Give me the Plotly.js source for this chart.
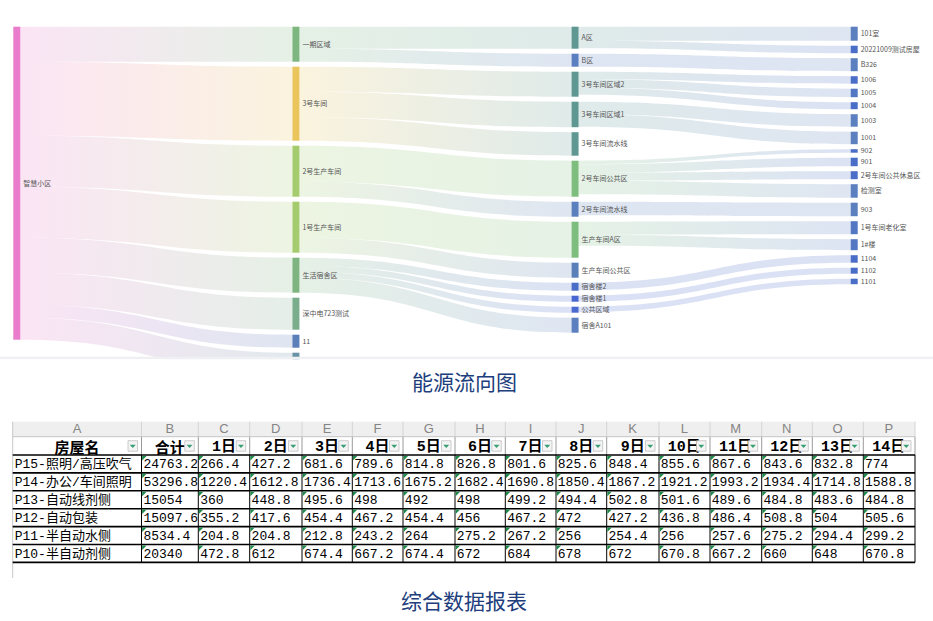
<!DOCTYPE html>
<html><head><meta charset="utf-8">
<script src="https://cdn.plot.ly/plotly-3.0.1.min.js"></script>
<style>html,body{margin:0;padding:0;background:#fff;}#chart{width:933px;height:621px;}</style>
</head><body><div id="chart"></div>
<script>
// ================= DATA =================
// Sankey nodes (in column order, top to bottom)
const nodeLabels = ['智慧小区',
  '一期区域','3号车间','2号生产车间','1号生产车间','生活宿舍区','深中电723测试','11','',
  'A区','B区','3号车间区域2','3号车间区域1','3号车间流水线','2号车间公共区','2号车间流水线','生产车间A区','生产车间公共区','宿舍楼2','宿舍楼1','公共区域','宿舍A101',
  '101室','20221009测试房屋','B326','1006','1005','1004','1003','1001','902','901','2号车间公共休息区','检测室','903','1号车间老化室','1#楼','1104','1102','1101'];
const linkSource = ['智慧小区','智慧小区','智慧小区','智慧小区','智慧小区','智慧小区','智慧小区','智慧小区',
  '一期区域','一期区域','3号车间','3号车间','3号车间','2号生产车间','2号生产车间','1号生产车间','1号生产车间',
  '生活宿舍区','生活宿舍区','生活宿舍区','生活宿舍区',
  'A区','A区','B区','3号车间区域2','3号车间区域2','3号车间区域2','3号车间区域1','3号车间区域1',
  '2号车间公共区','2号车间公共区','2号车间公共区','2号车间公共区','2号车间流水线','生产车间A区','生产车间A区',
  '宿舍楼2','宿舍楼1','公共区域'];
const linkTarget = ['一期区域','3号车间','2号生产车间','1号生产车间','生活宿舍区','深中电723测试','11','',
  'A区','B区','3号车间区域2','3号车间区域1','3号车间流水线','2号车间公共区','2号车间流水线','生产车间A区','生产车间公共区',
  '宿舍楼2','宿舍楼1','公共区域','宿舍A101',
  '101室','20221009测试房屋','B326','1006','1005','1004','1003','1001',
  '902','901','2号车间公共休息区','检测室','903','1号车间老化室','1#楼',
  '1104','1102','1101'];
const linkValue = [35,74,51,51,35,32,13,22,
  22,13,25,25.5,23.5,36,15,36,15,
  8,6,6,15,
  14,7.5,13,7.5,8.5,7,12.5,12.5,
  3.5,8.5,8,13.5,13.5,13,11,
  7.5,6,5.5];

// Table
const colLetters = ['A','B','C','D','E','F','G','H','I','J','K','L','M','N','O','P'];
const tableHeaders = ['房屋名','合计','1日','2日','3日','4日','5日','6日','7日','8日','9日','10日','11日','12日','13日','14日'];
const roomNames = ['P15-照明/高压吹气','P14-办公/车间照明','P13-自动线剂侧','P12-自动包装','P11-半自动水侧','P10-半自动剂侧'];
const roomTotals = [24763.2, 53296.8, 15054, 15097.6, 8534.4, 20340];
const dailyP15 = [266.4,427.2,681.6,789.6,814.8,826.8,801.6,825.6,848.4,855.6,867.6,843.6,832.8,774];
const dailyP14 = [1220.4,1612.8,1736.4,1713.6,1675.2,1682.4,1690.8,1850.4,1867.2,1921.2,1993.2,1934.4,1714.8,1588.8];
const dailyP13 = [360,448.8,495.6,498,492,498,499.2,494.4,502.8,501.6,489.6,484.8,483.6,484.8];
const dailyP12 = [355.2,417.6,454.4,467.2,454.4,456,467.2,472,427.2,436.8,486.4,508.8,504,505.6];
const dailyP11 = [204.8,204.8,212.8,243.2,264,275.2,267.2,256,254.4,256,257.6,275.2,294.4,299.2];
const dailyP10 = [472.8,612,674.4,667.2,674.4,672,684,678,672,670.8,667.2,660,648,670.8];
const dailyRows = [dailyP15, dailyP14, dailyP13, dailyP12, dailyP11, dailyP10];

// ================= STYLE / LAYOUT =================
const nodeColors = ['#ea7ccc',
  '#7db77f','#e9c55b','#a4cb6e','#a4cb6e','#7db47f','#7aad8b','#5b7fb9','#6a93a5',
  '#5f9893','#5a7ec0','#5f9893','#5f9893','#5f9893','#7dbe7e','#5a80bd','#7dbe7e','#5b7fb9','#4a6dc6','#4866d0','#4a6ad0','#5b7fbf',
  '#5b7fbf','#4a6dc8','#5b7fbf','#4a6dc8','#5477c4','#4a6dc8','#5b7fbf','#5b7fbf','#4a6dc8','#4a6dc8','#4a6dc8','#5b7fbf','#5b7fbf','#5477c4','#5477c4','#4a6dc8','#4a6dc8','#4a6dc8'];
const FW = 933, FH = 621;
const PX = x => x / FW, PY = y => 1 - y / FH;
const SK = {left: 13.3, right: 857.7, top: 26.7, bottom: 374.7, thick: 7, pad: 5};
const LINK_ALPHA = 0.2;

// --- sankey node placement computed from the data (column = depth, stacked in data order)
const idx = {}; nodeLabels.forEach((l, i) => idx[l] = i);
const src = linkSource.map(l => idx[l]), tgt = linkTarget.map(l => idx[l]);
const depth = nodeLabels.map(() => 0);
for (let it = 0; it < 10; it++) src.forEach((s, k) => { depth[tgt[k]] = Math.max(depth[tgt[k]], depth[s] + 1); });
const inV = nodeLabels.map(() => 0), outV = nodeLabels.map(() => 0);
src.forEach((s, k) => { outV[s] += linkValue[k]; inV[tgt[k]] += linkValue[k]; });
const nodeVal = nodeLabels.map((_, i) => Math.max(inV[i], outV[i]));
const maxD = Math.max(...depth);
const Wd = SK.right - SK.left, Hd = SK.bottom - SK.top;
const cols = [];
for (let d = 0; d <= maxD; d++) cols.push(nodeLabels.map((_, i) => i).filter(i => depth[i] === d));
const ky = Math.min(...cols.map(c => (Hd - (c.length - 1) * SK.pad) / c.reduce((a, i) => a + nodeVal[i], 0)));
const nodeX = [], nodeY = [];
cols.forEach((c, d) => {
  let y = 0;
  c.forEach(i => {
    const h = nodeVal[i] * ky;
    nodeY[i] = (y + h / 2) / Hd;
    y += h + SK.pad;
    nodeX[i] = (d * (Wd - SK.thick) / maxD + SK.thick / 2) / Wd;
  });
});
function hexRgb(h) { return [parseInt(h.slice(1,3),16), parseInt(h.slice(3,5),16), parseInt(h.slice(5,7),16)]; }
const linkColors = src.map((s, k) => {
  const a = hexRgb(nodeColors[s]), b = hexRgb(nodeColors[tgt[k]]);
  return `rgba(${(a[0]+b[0])>>1},${(a[1]+b[1])>>1},${(a[2]+b[2])>>1},${LINK_ALPHA})`;
});

const sankey = {
  type: 'sankey', arrangement: 'fixed', orientation: 'h',
  domain: {x: [PX(SK.left), PX(SK.right)], y: [PY(SK.bottom), PY(SK.top)]},
  node: {label: nodeLabels, color: nodeColors, pad: SK.pad, thickness: SK.thick,
         line: {width: 0}, x: nodeX, y: nodeY, align: 'left', hoverinfo: 'none'},
  link: {source: src, target: tgt, value: linkValue, color: linkColors, hoverinfo: 'none'},
  textfont: {family: 'Noto Sans CJK SC', size: 7, color: '#555', shadow: 'none'},
  hoverinfo: 'none'
};

// --- table geometry
const colEdges = [12.7,141.5,198.3,249.7,302,352.3,403,455,505.3,556,606.7,659,710,761.7,812.3,863.3,915];
const colWidths = colEdges.slice(1).map((e, i) => e - colEdges[i]);
const LET_TOP = 421.7, LET_H = 15, HEAD_H = 18.3, ROW_H = 17.9;
const HEAD_TOP = LET_TOP + LET_H, DATA_TOP = HEAD_TOP + HEAD_H;
const TXT_OFF_C = -6, TXT_OFF_L = -20.5, TEXT_PAD = 2;
const clear = 'rgba(0,0,0,0)';
const monoCJK = 'Liberation Mono, Noto Sans CJK SC';

const tableHead = {
  type: 'table',
  domain: {x: [PX(colEdges[0]), PX(colEdges[16])], y: [PY(DATA_TOP + 3), PY(LET_TOP + TXT_OFF_C)]},
  columnwidth: colWidths,
  header: {values: colLetters, height: LET_H, align: 'center', fill: {color: clear}, line: {width: 0, color: clear},
           font: {family: 'Liberation Sans', size: 13, color: '#858585'}},
  cells: {values: tableHeaders.map(h => ['<b>' + h + '</b>']), height: HEAD_H, align: 'center',
          fill: {color: clear}, line: {width: 0, color: clear}, font: {family: monoCJK, size: 15, color: '#000'}}
};
const dataCols = [roomNames, roomTotals.map(String)];
for (let d = 0; d < 14; d++) dataCols.push(dailyRows.map(r => String(r[d])));
const tableBody = {
  type: 'table',
  domain: {x: [PX(colEdges[0]), PX(colEdges[16])], y: [PY(600), PY(DATA_TOP + TXT_OFF_L)]},
  columnwidth: colWidths,
  header: {values: [], height: 0, fill: {color: clear}, line: {width: 0, color: clear}},
  cells: {values: dataCols, height: ROW_H, align: 'left', fill: {color: clear}, line: {width: 0, color: clear},
          font: {family: monoCJK, size: 13, color: '#000'}}
};

// --- decorations (shapes)
const shapes = [];
function rect(x0, y0, x1, y1, fill, layer, line) {
  shapes.push({type: 'rect', xref: 'paper', yref: 'paper', x0: PX(x0), x1: PX(x1), y0: PY(y1), y1: PY(y0),
               fillcolor: fill, line: line || {width: 0}, layer: layer || 'above'});
}
function seg(x0, y0, x1, y1, color, w) {
  shapes.push({type: 'line', xref: 'paper', yref: 'paper', x0: PX(x0), x1: PX(x1), y0: PY(y0), y1: PY(y1),
               line: {color: color, width: w}, layer: 'above'});
}
function poly(pts, fill) {
  shapes.push({type: 'path', xref: 'paper', yref: 'paper', fillcolor: fill, line: {width: 0}, layer: 'above',
               path: 'M' + pts.map(p => PX(p[0]) + ',' + PY(p[1])).join('L') + 'Z'});
}
// sankey viewport edge
rect(0, 356.7, FW, 359.3, '#eff0f3');
rect(0, 359.3, FW, 386, '#ffffff');
// spreadsheet
rect(colEdges[0], LET_TOP, colEdges[16], HEAD_TOP, '#efefef', 'below');
const nRows = roomNames.length;
const DATA_BOT = DATA_TOP + nRows * ROW_H;
seg(colEdges[0], LET_TOP, colEdges[0], 578, '#c8c8c8', 1);
for (let c = 1; c <= 16; c++) {
  seg(colEdges[c], LET_TOP, colEdges[c], HEAD_TOP, '#d4d4d4', 1);
  seg(colEdges[c], HEAD_TOP, colEdges[c], DATA_TOP, '#9a9a9a', 1);
  seg(colEdges[c], DATA_TOP, colEdges[c], DATA_BOT, '#000', 1);
}
seg(colEdges[0], HEAD_TOP, colEdges[16], HEAD_TOP, '#c6c6c6', 1);
for (let r = 0; r <= nRows; r++) seg(colEdges[0], DATA_TOP + r * ROW_H, colEdges[16], DATA_TOP + r * ROW_H, '#000', 1.6);
// filter buttons
for (let c = 0; c < 16; c++) {
  const R = colEdges[c + 1];
  const bx0 = R - 13.5, bx1 = R - 4, by0 = HEAD_TOP + 4, by1 = HEAD_TOP + 14.5;
  rect(bx0, by0, bx1, by1, '#f4f4f4', 'above', {color: '#b8b8b8', width: 0.7});
  const cx = (bx0 + bx1) / 2, cy = (by0 + by1) / 2;
  poly([[cx - 3, cy - 1.3], [cx + 3, cy - 1.3], [cx, cy + 2]], '#3a9e74');
}
// green "number as text" markers
for (let r = 0; r < nRows; r++) for (let c = 1; c < 16; c++) {
  const x = colEdges[c] + 0.6, y = DATA_TOP + r * ROW_H + 0.9;
  poly([[x, y], [x + 4.5, y], [x, y + 4.5]], '#1f8a4c');
}

const annotations = [
  {text: '能源流向图', xref: 'paper', yref: 'paper', x: PX(464), y: PY(381), showarrow: false,
   xanchor: 'center', yanchor: 'middle', font: {family: 'Noto Sans CJK SC', size: 21, color: '#203d7c'}},
  {text: '综合数据报表', xref: 'paper', yref: 'paper', x: PX(464), y: PY(600), showarrow: false,
   xanchor: 'center', yanchor: 'middle', font: {family: 'Noto Sans CJK SC', size: 21, color: '#203d7c'}}
];

const layout = {width: FW, height: FH, margin: {l: 0, r: 0, t: 0, b: 0}, paper_bgcolor: '#fff',
  showlegend: false, shapes: shapes, annotations: annotations};

const gd = document.getElementById('chart');
function postProcess() {
  const NS = 'http://www.w3.org/2000/svg';
  const svg = gd.querySelector('.main-svg');
  if (!svg) return;
  let defs = svg.querySelector('defs');
  if (!defs) { defs = document.createElementNS(NS, 'defs'); svg.insertBefore(defs, svg.firstChild); }
  // gradient links (source colour -> target colour)
  gd.querySelectorAll('.sankey-link').forEach(p => {
    const d = p.__data__; if (!d || !d.link) return;
    let s, t;
    if (d.link.source && d.link.source.pointNumber !== undefined) { s = d.link.source.pointNumber; t = d.link.target.pointNumber; }
    else { s = src[d.link.pointNumber]; t = tgt[d.link.pointNumber]; }
    const id = 'lgrad_' + s + '_' + t;
    if (!defs.querySelector('#' + id)) {
      const g = document.createElementNS(NS, 'linearGradient');
      g.setAttribute('id', id); g.setAttribute('x1', '0'); g.setAttribute('y1', '0'); g.setAttribute('x2', '1'); g.setAttribute('y2', '0');
      [[0, nodeColors[s]], [1, nodeColors[t]]].forEach(([o, c]) => {
        const st = document.createElementNS(NS, 'stop');
        st.setAttribute('offset', o); st.setAttribute('stop-color', c);
        g.appendChild(st);
      });
      defs.appendChild(g);
    }
    p.style.fill = 'url(#' + id + ')';
    p.style.fillOpacity = LINK_ALPHA;
  });
  // labels of the last column on the right side of the nodes, like the others
  gd.querySelectorAll('.node-label').forEach(t => {
    if (t.getAttribute('text-anchor') === 'end') {
      const m = /translate\(\s*([-\d.e]+)[\s,]*([-\d.e]*)\s*\)/.exec(t.getAttribute('transform') || '');
      if (!m) return;
      const x = parseFloat(m[1]), y = parseFloat(m[2] || 0);
      t.setAttribute('text-anchor', 'start');
      t.setAttribute('transform', 'translate(' + (SK.thick - x) + ',' + y + ')');
    }
  });
  // spreadsheet-like small left padding for left-aligned cells
  gd.querySelectorAll('.cell-text-holder').forEach(h => {
    const m = /translate\(\s*([-\d.e]+)[\s,]*([-\d.e]*)\s*\)/.exec(h.getAttribute('transform') || '');
    if (!m) return;
    const x = parseFloat(m[1]), y = parseFloat(m[2] || 0);
    if (Math.abs(x - 8) < 0.01) h.setAttribute('transform', 'translate(' + TEXT_PAD + ',' + y + ')');
  });
}
Plotly.newPlot(gd, [sankey, tableHead, tableBody], layout, {displayModeBar: false, staticPlot: true}).then(() => {
  postProcess();
  setTimeout(postProcess, 50);
  setTimeout(postProcess, 400);
  setTimeout(postProcess, 900);
});
</script></body></html>
